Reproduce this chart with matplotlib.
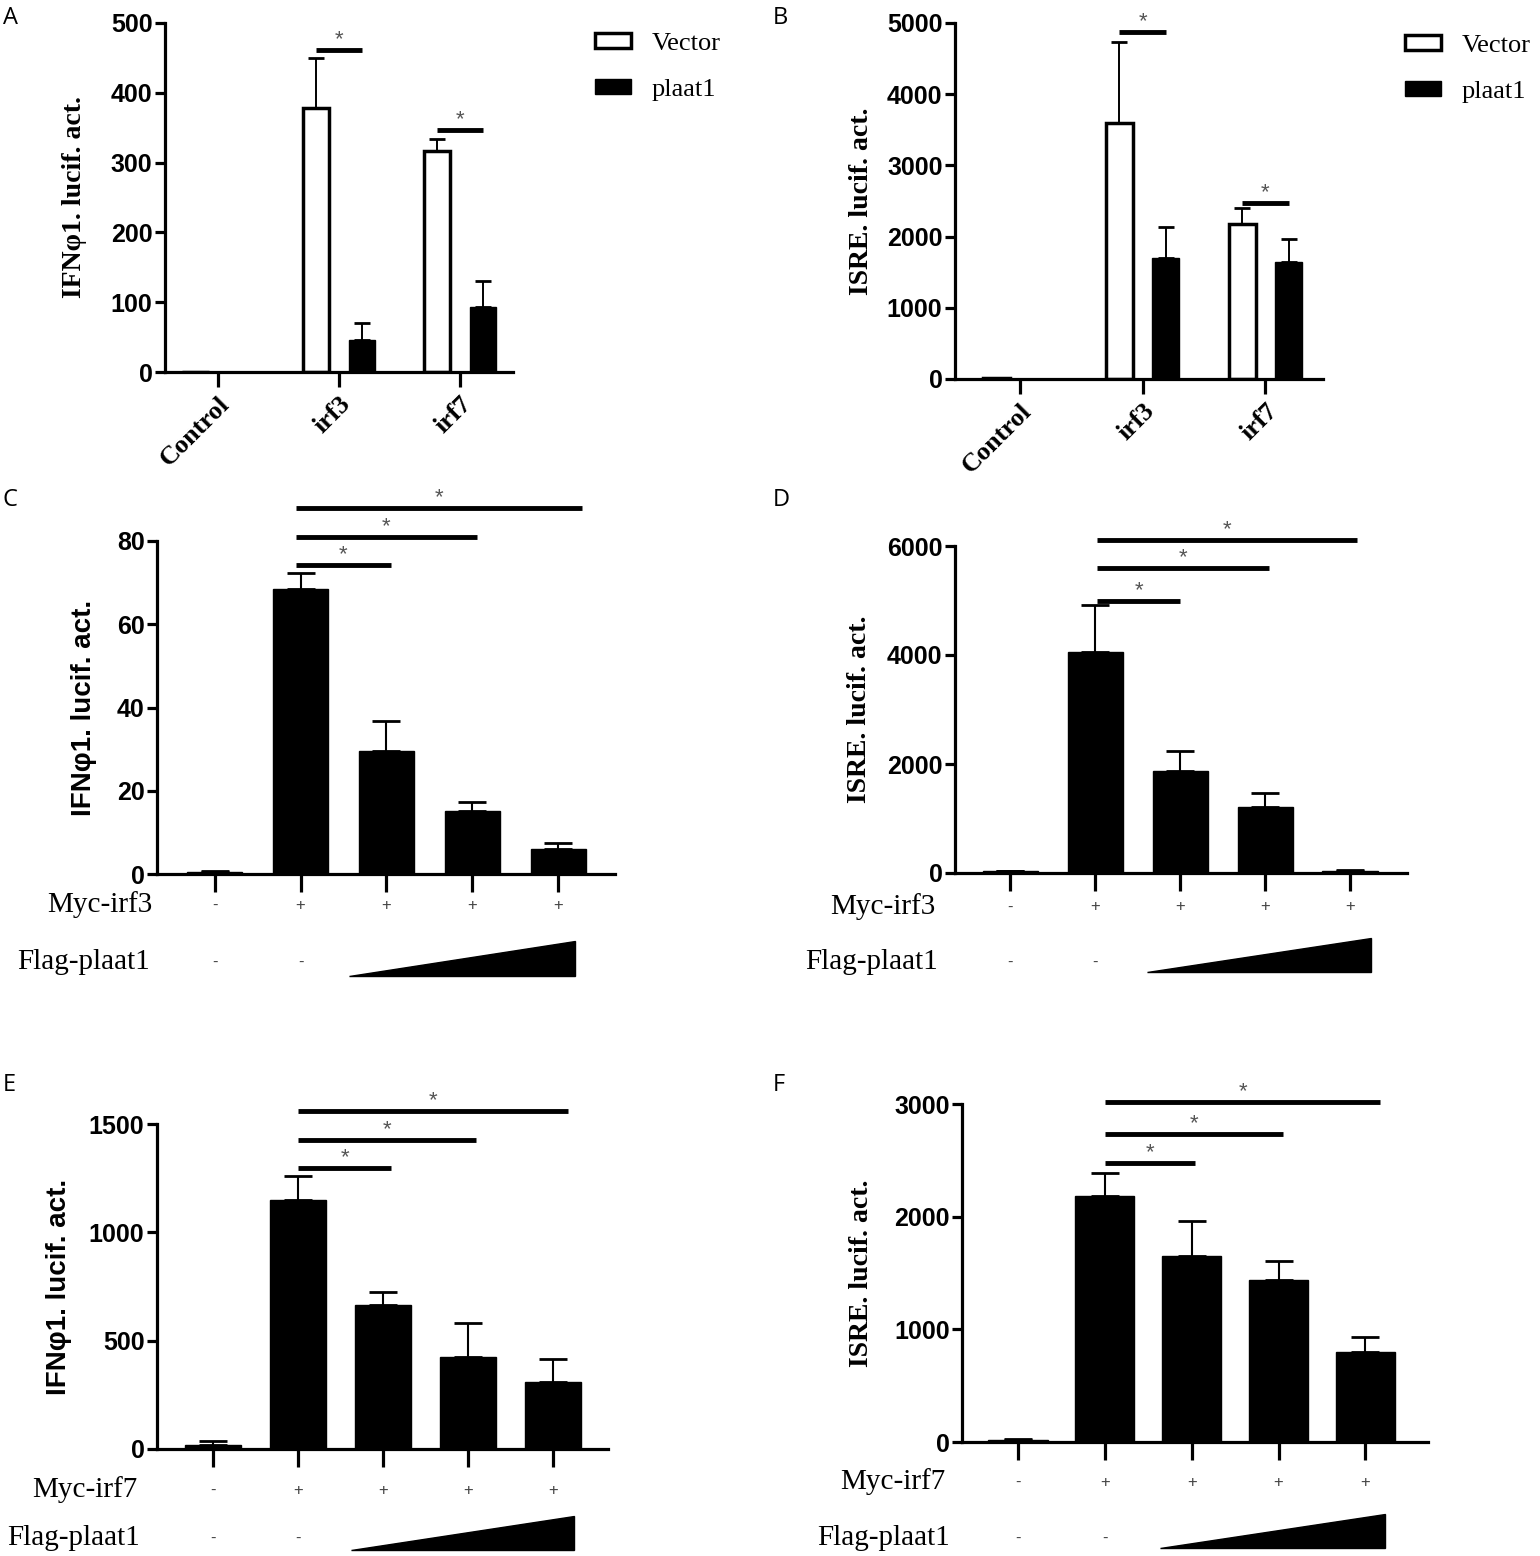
import matplotlib
matplotlib.use('Agg')
import matplotlib.pyplot as plt
from matplotlib.patches import Patch
from matplotlib import font_manager

# pick a narrow bold sans for the tick numbers if there is one
_names = {f.name for f in font_manager.fontManager.ttflist}
NARROW = 'Liberation Sans Narrow' if 'Liberation Sans Narrow' in _names else 'Liberation Sans'
SERIF = 'Liberation Serif'
SANS = 'Liberation Sans'

# ---------------- data ----------------
groups = ['Control', 'irf3', 'irf7']

# panel A  IFNphi1 reporter
a_vector = [0, 378, 317]
a_vector_err = [0, 72, 17]
a_plaat1 = [0, 46, 93]
a_plaat1_err = [0, 24, 37]
a_sig = [None, 461, 347]

# panel B  ISRE reporter
b_vector = [15, 3600, 2180]
b_vector_err = [0, 1135, 220]
b_plaat1 = [0, 1700, 1645]
b_plaat1_err = [0, 440, 325]
b_sig = [None, 4875, 2475]

myc_signs = ['-', '+', '+', '+', '+']
flag_signs = ['-', '-']

# panel C  IFNphi1, Myc-irf3 + increasing plaat1
c_vals = [0.5, 68.5, 29.5, 15.1, 6.0]
c_err = [0.3, 3.8, 7.3, 2.2, 1.4]
c_sig_x = [(0.95, 2.05), (0.95, 3.05), (0.95, 4.28)]
c_sig_y = [74.2, 80.9, 87.9]

# panel D  ISRE, Myc-irf3
d_vals = [30, 4055, 1870, 1210, 40]
d_err = [10, 860, 370, 255, 20]
d_sig_x = [(1.02, 2.0), (1.02, 3.04), (1.02, 4.08)]
d_sig_y = [4990, 5600, 6110]

# panel E  IFNphi1, Myc-irf7
e_vals = [20, 1150, 665, 425, 310]
e_err = [15, 110, 60, 155, 105]
e_sig_x = [(1.0, 2.1), (1.0, 3.09), (1.0, 4.18)]
e_sig_y = [1297, 1426, 1560]

# panel F  ISRE, Myc-irf7
f_vals = [20, 2185, 1651, 1438, 799]
f_err = [10, 205, 310, 168, 133]
f_sig_x = [(1.0, 2.04), (1.0, 3.05), (1.0, 4.17)]
f_sig_y = [2476, 2734, 3018]

W, H = 1540, 1556
fig = plt.figure(figsize=(W / 100, H / 100), dpi=100)


def add_ax(x0, y0, x1, y1):
    return fig.add_axes([x0 / W, 1 - y1 / H, (x1 - x0) / W, (y1 - y0) / H])


def style_axis(ax, ymax, yticks, xlim, xtick_len):
    ax.set_ylim(0, ymax)
    ax.set_xlim(*xlim)
    ax.set_yticks(yticks)
    for s in ['top', 'right']:
        ax.spines[s].set_visible(False)
    for s in ['left', 'bottom']:
        ax.spines[s].set_linewidth(2.3)
    ax.tick_params(axis='y', width=2.3, length=7, pad=2)
    ax.tick_params(axis='x', width=2.3, length=xtick_len)
    for lab in ax.get_yticklabels():
        lab.set_fontfamily(NARROW)
        lab.set_fontweight('bold')
        lab.set_fontsize(18)


def sig_line(ax, x0, x1, y):
    ax.plot([x0, x1], [y, y], color='black', lw=3.5, clip_on=False, solid_capstyle='butt')
    ax.text((x0 + x1) / 2, y, '*', ha='center', va='bottom', fontsize=16,
            color='#555555', family=SANS, clip_on=False)


def grouped_panel(rect, vec, vec_err, pl, pl_err, sig, ymax, yticks, xlim, ylabel, ylab_x, leg_xy):
    ax = add_ax(*rect)
    ax_w = rect[2] - rect[0]
    x = range(len(groups))
    off, wid = 0.19, 0.22
    xv = [i - off for i in x]
    xp = [i + off for i in x]
    ax.bar(xv, vec, width=wid, facecolor='white', edgecolor='black', lw=2.5, zorder=2)
    ax.bar(xp, pl, width=wid, facecolor='black', edgecolor='black', lw=1, zorder=2)
    ax.errorbar(xv, vec, yerr=[[0] * len(vec), vec_err], fmt='none', ecolor='black',
                elinewidth=1.4, capsize=6, capthick=2, zorder=1)
    ax.errorbar(xp, pl, yerr=[[0] * len(pl), pl_err], fmt='none', ecolor='black',
                elinewidth=1.4, capsize=6, capthick=2, zorder=1)
    for i, y in enumerate(sig):
        if y is not None:
            sig_line(ax, xv[i], xp[i], y)
    style_axis(ax, ymax, yticks, xlim, 11)
    ax.set_xticks(list(x))
    ax.set_xticklabels(groups, rotation=45, ha='right', rotation_mode='anchor',
                       family=SERIF, fontweight='bold', fontsize=19)
    ax.set_ylabel(ylabel, family=SERIF, fontweight='bold', fontsize=20)
    ax.yaxis.set_label_coords(-ylab_x / ax_w, 0.5)
    handles = [Patch(facecolor='white', edgecolor='black', lw=2.5, label='Vector'),
               Patch(facecolor='black', edgecolor='black', label='plaat1')]
    ax.legend(handles=handles, loc='upper left', bbox_to_anchor=(leg_xy[0] / W, 1 - leg_xy[1] / H),
              bbox_transform=fig.transFigure, frameon=False, borderpad=0, borderaxespad=0,
              prop={'family': SERIF, 'size': 19}, handlelength=1.35, handleheight=0.5,
              labelspacing=0.9, handletextpad=0.8)
    return ax


def dose_panel(rect, vals, errs, sig_x, sig_y, ymax, yticks, xlim, width, ylabel, ylab_font,
               ylab_x, myc_name, rows, tri_x):
    ax = add_ax(*rect)
    ax_h = rect[3] - rect[1]
    ax_w = rect[2] - rect[0]
    x = list(range(len(vals)))
    ax.bar(x, vals, width=width, color='black', edgecolor='black', lw=1, zorder=2)
    ax.errorbar(x, vals, yerr=[[0] * len(vals), errs], fmt='none', ecolor='black',
                elinewidth=1.5, capsize=10, capthick=2, zorder=1)
    for (x0, x1), y in zip(sig_x, sig_y):
        sig_line(ax, x0, x1, y)
    style_axis(ax, ymax, yticks, xlim, 13)
    ax.set_xticks(x)
    ax.set_xticklabels([])
    ax.set_ylabel(ylabel, family=ylab_font, fontweight='bold', fontsize=20)
    ax.yaxis.set_label_coords(-ylab_x / ax_w, 0.5)

    myc_dy, flag_dy, tri_bot, tri_top, myc_dx, flag_dx = rows
    tr = ax.get_xaxis_transform()
    for i, s in enumerate(myc_signs):
        ax.text(i, -myc_dy / ax_h, s, transform=tr, ha='center', va='center',
                fontsize=12, color='#444444', family=SANS, clip_on=False)
    for i, s in enumerate(flag_signs):
        ax.text(i, -flag_dy / ax_h, s, transform=tr, ha='center', va='center',
                fontsize=12, color='#444444', family=SANS, clip_on=False)
    ax.text(-myc_dx / ax_w, -myc_dy / ax_h, myc_name, transform=ax.transAxes, ha='right',
            va='center', family=SERIF, fontsize=21, clip_on=False)
    ax.text(-flag_dx / ax_w, -flag_dy / ax_h, 'Flag-plaat1', transform=ax.transAxes, ha='right',
            va='center', family=SERIF, fontsize=21, clip_on=False)
    ax.fill([tri_x[0], tri_x[1], tri_x[1]],
            [-tri_bot / ax_h, -tri_bot / ax_h, -tri_top / ax_h],
            transform=tr, color='black', clip_on=False)
    return ax


grouped_panel((165, 23, 513, 372), a_vector, a_vector_err, a_plaat1, a_plaat1_err, a_sig,
              500, range(0, 501, 100), (-0.44, 2.44), 'IFNφ1. lucif. act.', 78, (595, 33))
grouped_panel((955, 23, 1323, 379), b_vector, b_vector_err, b_plaat1, b_plaat1_err, b_sig,
              5000, range(0, 5001, 1000), (-0.53, 2.47), 'ISRE. lucif. act.', 81, (1405, 35))

dose_panel((157, 541, 615, 874), c_vals, c_err, c_sig_x, c_sig_y, 80, range(0, 81, 20),
           (-0.67, 4.66), 0.64, 'IFNφ1. lucif. act.', SANS, 60, 'Myc-irf3',
           (31, 88, 102, 67, 5, 7), (1.56, 4.19))
dose_panel((955, 546, 1407, 873), d_vals, d_err, d_sig_x, d_sig_y, 6000, range(0, 6001, 2000),
           (-0.65, 4.67), 0.65, 'ISRE. lucif. act.', SERIF, 83, 'Myc-irf3',
           (34, 89, 99, 65, 20, 17), (1.61, 4.25))
dose_panel((157, 1124, 608, 1449), e_vals, e_err, e_sig_x, e_sig_y, 1500, range(0, 1501, 500),
           (-0.66, 4.65), 0.66, 'IFNφ1. lucif. act.', SANS, 85, 'Myc-irf7',
           (41, 89, 101, 67, 20, 17), (1.62, 4.25))
dose_panel((962, 1104, 1428, 1442), f_vals, f_err, f_sig_x, f_sig_y, 3000, range(0, 3001, 1000),
           (-0.645, 4.72), 0.68, 'ISRE. lucif. act.', SERIF, 88, 'Myc-irf7',
           (40, 96, 106, 72, 17, 12), (1.63, 4.23))

# panel letters
for letter, (px, py) in zip('ABCDEF', [(3, 6), (773, 6), (3, 488), (773, 488), (3, 1073), (773, 1073)]):
    fig.text(px / W, 1 - py / H, letter, ha='left', va='top', fontsize=17, family='Open Sans')

fig.savefig('out.png', dpi=100)
